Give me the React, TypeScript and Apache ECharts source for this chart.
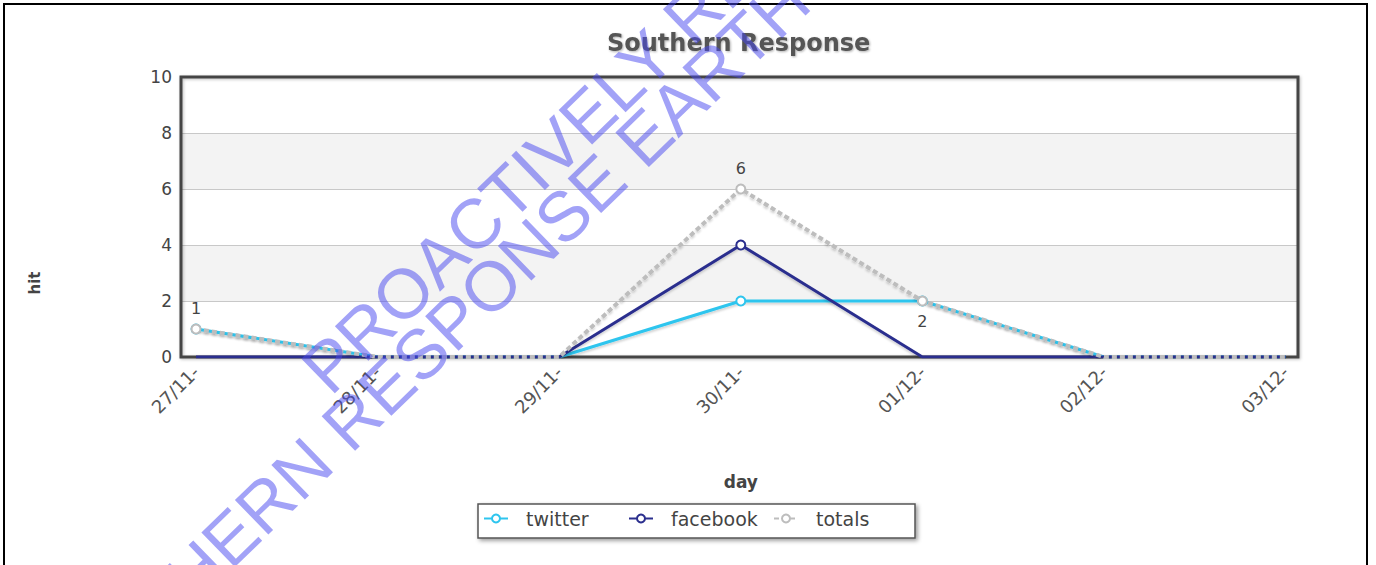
import { useEffect, useRef } from "react";
import * as echarts from "echarts";

const days = ["27/11-", "28/11-", "29/11-", "30/11-", "01/12-", "02/12-", "03/12-"];
const twitter = [1, 0, 0, 2, 2, 0, 0];
const facebook = [0, 0, 0, 4, 0, 0, 0];
const totals = [1, 0, 0, 6, 2, 0, 0];
const seriesNames = ["twitter", "facebook", "totals"];
const yMin = 0;
const yMax = 10;
const yStep = 2;
const titleText = "Southern Response";
const xName = "day";
const yName = "hit";
const watermark1 = "PROACTIVELY RELEASED";
const watermark2 = "SOUTHERN RESPONSE EARTHQUAKE";

const FONT = "DejaVu Sans";

export default function App() {
  const ref = useRef<HTMLDivElement>(null);

  useEffect(() => {
    document.body.style.margin = "0";
    if (!ref.current) return;
    const chart = echarts.init(ref.current, undefined, { renderer: "svg" });

    const colors = ["#2ec5ee", "#2b2f8e", "#bdbdbd"];
    const sym = (v: number) => (v > 0 ? 9 : 0);
    const lineShadow = { shadowColor: "rgba(0,0,0,0.18)", shadowBlur: 2, shadowOffsetY: 2 };

    const legendCommon = {
      padding: 0,
      itemWidth: 24,
      itemHeight: 10,
      top: 509,
      textStyle: { fontSize: 19, fontFamily: FONT, color: "#444", padding: [0, 0, 0, 13] },
    };

    const ang = (44 * Math.PI) / 180;
    const wmStyle = {
      fontFamily: "Liberation Sans",
      fontSize: 70,
      fill: "rgba(70,70,240,0.5)",
      align: "left",
      verticalAlign: "middle",
    };

    chart.setOption({
      animation: false,
      backgroundColor: "#ffffff",
      title: {
        text: titleText,
        left: 607,
        top: 31,
        padding: 0,
        textStyle: {
          fontFamily: FONT,
          fontSize: 24,
          fontWeight: "bold",
          color: "#555",
          textShadowColor: "rgba(0,0,0,0.3)",
          textShadowBlur: 2,
          textShadowOffsetX: 1,
          textShadowOffsetY: 1,
        },
      },
      legend: [
        { ...legendCommon, data: [seriesNames[0]], left: 483 },
        { ...legendCommon, data: [seriesNames[1]], left: 628 },
        { ...legendCommon, data: [seriesNames[2]], left: 773 },
      ],
      grid: [
        { left: 196, right: 90.4, top: 77, bottom: 208 },
        {
          left: 181,
          right: 78,
          top: 77,
          bottom: 208,
          show: true,
          borderWidth: 0,
          backgroundColor: "#fff",
          z: 0,
        },
      ],
      xAxis: [
        {
          type: "category",
          gridIndex: 0,
          data: days,
          boundaryGap: false,
          axisLine: { show: false },
          axisTick: { show: false },
          splitLine: { show: false },
          axisLabel: { rotate: 45, margin: 12, fontSize: 18, fontFamily: FONT, color: "#555" },
          name: xName,
          nameLocation: "middle",
          nameGap: 116,
          nameTextStyle: { fontFamily: FONT, fontSize: 17, fontWeight: "bold", color: "#444" },
        },
        { type: "category", gridIndex: 1, data: days, show: false },
      ],
      yAxis: [
        { type: "value", gridIndex: 0, min: yMin, max: yMax, interval: yStep, show: false },
        {
          type: "value",
          gridIndex: 1,
          min: yMin,
          max: yMax,
          interval: yStep,
          axisLine: { show: false },
          axisTick: { show: false },
          axisLabel: { fontSize: 17, fontFamily: FONT, color: "#444", margin: 9 },
          splitLine: { show: true, lineStyle: { color: "#c8c8c8", width: 1 } },
          splitArea: { show: true, areaStyle: { color: ["#ffffff", "#f3f3f3"] } },
        },
      ],
      series: [
        {
          name: seriesNames[0],
          type: "line",
          xAxisIndex: 0,
          yAxisIndex: 0,
          data: twitter,
          color: colors[0],
          symbol: "circle",
          symbolSize: sym,
          itemStyle: { color: "#fff", borderColor: colors[0], borderWidth: 2 },
          lineStyle: { color: colors[0], width: 3, ...lineShadow },
          z: 3,
        },
        {
          name: seriesNames[1],
          type: "line",
          xAxisIndex: 0,
          yAxisIndex: 0,
          data: facebook,
          color: colors[1],
          symbol: "circle",
          symbolSize: sym,
          itemStyle: { color: "#fff", borderColor: colors[1], borderWidth: 2 },
          lineStyle: { color: colors[1], width: 3, ...lineShadow },
          z: 4,
        },
        {
          name: seriesNames[2],
          type: "line",
          xAxisIndex: 0,
          yAxisIndex: 0,
          data: totals.map((v, i) => ({
            value: v,
            label: {
              show: v > 0,
              position: i === 4 ? "bottom" : "top",
              distance: 7,
              fontSize: 16,
              fontFamily: FONT,
              color: "#444",
            },
          })),
          color: colors[2],
          symbol: "circle",
          symbolSize: sym,
          itemStyle: { color: "#fff", borderColor: colors[2], borderWidth: 2 },
          lineStyle: { color: colors[2], width: 4, type: [5, 3], ...lineShadow },
          z: 5,
        },
      ],
      graphic: [
        {
          type: "rect",
          shape: { x: 4, y: 4, width: 1363, height: 600 },
          style: { fill: "none", stroke: "#000", lineWidth: 2 },
          silent: true,
          z: 1,
        },
        {
          type: "rect",
          shape: { x: 181, y: 77, width: 1117, height: 280 },
          style: {
            fill: "none",
            stroke: "#444",
            lineWidth: 3,
            shadowBlur: 3,
            shadowOffsetX: 1,
            shadowOffsetY: 1,
            shadowColor: "rgba(0,0,0,0.25)",
          },
          silent: true,
          z: 1,
        },
        {
          type: "rect",
          shape: { x: 478, y: 504, width: 437, height: 34 },
          style: {
            fill: "#fff",
            stroke: "#555",
            lineWidth: 1.5,
            shadowBlur: 4,
            shadowOffsetX: 2,
            shadowOffsetY: 2,
            shadowColor: "rgba(0,0,0,0.4)",
          },
          silent: true,
          z: 1,
        },
        {
          type: "text",
          x: 35,
          y: 283,
          rotation: Math.PI / 2,
          style: {
            text: yName,
            fontFamily: FONT,
            fontSize: 15,
            fontWeight: "bold",
            fill: "#444",
            align: "center",
            verticalAlign: "middle",
          },
          silent: true,
        },
        {
          type: "text",
          x: 314,
          y: 380,
          rotation: ang,
          style: { ...wmStyle, text: watermark1 },
          silent: true,
          z: 100,
        },
        {
          type: "text",
          x: 38,
          y: 724,
          rotation: ang,
          style: { ...wmStyle, text: watermark2 },
          silent: true,
          z: 100,
        },
      ],
    });

    return () => chart.dispose();
  }, []);

  return <div ref={ref} style={{ width: 1376, height: 565, overflow: "hidden" }} />;
}
